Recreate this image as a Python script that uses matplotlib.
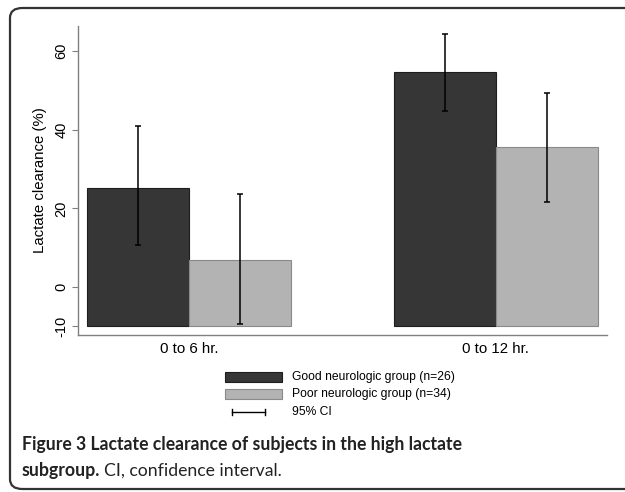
import numpy as np
import matplotlib
matplotlib.use('Agg')
import matplotlib.pyplot as plt
from matplotlib.patches import Rectangle, FancyBboxPatch
from matplotlib.lines import Line2D

# data
periods = ['0 to 6 hr.', '0 to 12 hr.']
good_mean = [25.2, 54.6]
good_lo = [10.7, 44.7]
good_hi = [40.9, 64.3]
poor_mean = [6.9, 35.6]
poor_lo = [-9.4, 21.6]
poor_hi = [23.6, 49.3]
labels = ['Good neurologic group (n=26)', 'Poor neurologic group (n=34)', '95% CI']
base = -10

W, H = 625, 492
fig = plt.figure(figsize=(W/100, H/100), dpi=100)
plt.rcParams['font.family'] = 'Liberation Sans'

def fx(px):
	return px / W
def fy(py):
	return 1 - py / H

ax = fig.add_axes([fx(78), fy(335), fx(607) - fx(78), fy(26) - fy(335)])

x = np.arange(len(periods))
w = 0.332
dark = '#363636'
light = '#b3b3b3'
ax.bar(x - w/2, np.array(good_mean) - base, w, bottom=base, color=dark, edgecolor='#1e1e1e', linewidth=0.8)
ax.bar(x + w/2, np.array(poor_mean) - base, w, bottom=base, color=light, edgecolor='#8a8a8a', linewidth=0.8)

for xs, lo, hi in [(x - w/2, good_lo, good_hi), (x + w/2, poor_lo, poor_hi)]:
	for xi, l, h in zip(xs, lo, hi):
		ax.errorbar(xi, (l + h)/2, yerr=(h - l)/2, color='black', capsize=2.5, elinewidth=1.1, capthick=1.1)

ax.set_xlim(-0.362, 1.362)
ax.set_ylim(-12.2, 66.4)
ax.set_yticks([-10, 0, 20, 40, 60])
ax.set_yticklabels(['-10', '0', '20', '40', '60'], rotation=90, va='center', fontsize=10.5)
ax.set_xticks(x)
ax.set_xticklabels(periods, fontsize=10.8)
ax.tick_params(axis='x', length=0, pad=5)
ax.tick_params(axis='y', length=4, color='#808080', pad=3)
ax.set_ylabel('Lactate clearance (%)', fontsize=10.8, labelpad=5)
for s in ['top', 'right']:
	ax.spines[s].set_visible(False)
for s in ['left', 'bottom']:
	ax.spines[s].set_color('#808080')
	ax.spines[s].set_linewidth(1.0)

# legend, drawn by hand below the plot
fig.patches.append(Rectangle((fx(225), fy(382)), fx(282) - fx(225), fy(372) - fy(382),
	transform=fig.transFigure, facecolor=dark, edgecolor='#1e1e1e', linewidth=0.8))
fig.patches.append(Rectangle((fx(225), fy(399)), fx(282) - fx(225), fy(389) - fy(399),
	transform=fig.transFigure, facecolor=light, edgecolor='#8a8a8a', linewidth=0.8))
fig.lines.append(Line2D([fx(232), fx(265)], [fy(412), fy(412)], transform=fig.transFigure, color='black', linewidth=1))
for px in [232, 265]:
	fig.lines.append(Line2D([fx(px), fx(px)], [fy(409), fy(415)], transform=fig.transFigure, color='black', linewidth=1))
for lab, py in zip(labels, [377, 394, 412]):
	fig.text(fx(292), fy(py), lab, fontsize=8.7, va='center', ha='left')

# caption
cap_font = 'Lato'
cap_size = 12.7
fig.text(fx(22), fy(450), 'Figure 3 Lactate clearance of subjects in the high lactate',
	fontsize=cap_size, fontweight='bold', family=cap_font, va='baseline', color='#222222')
t = fig.text(fx(22), fy(476), 'subgroup.', fontsize=cap_size, fontweight='bold', family=cap_font, va='baseline', color='#222222')
fig.canvas.draw()
bb = t.get_window_extent()
fig.text(bb.x1 / W + fx(4), fy(476), 'CI, confidence interval.', fontsize=cap_size, family=cap_font,
	va='baseline', color='#222222')

# rounded frame around the figure
fig.patches.append(FancyBboxPatch((fx(10), fy(489)), fx(640) - fx(10), fy(8) - fy(489),
	boxstyle='round,pad=0,rounding_size=0.02', transform=fig.transFigure,
	facecolor='none', edgecolor='#333333', linewidth=1.6))

fig.savefig('out.png', dpi=100)
